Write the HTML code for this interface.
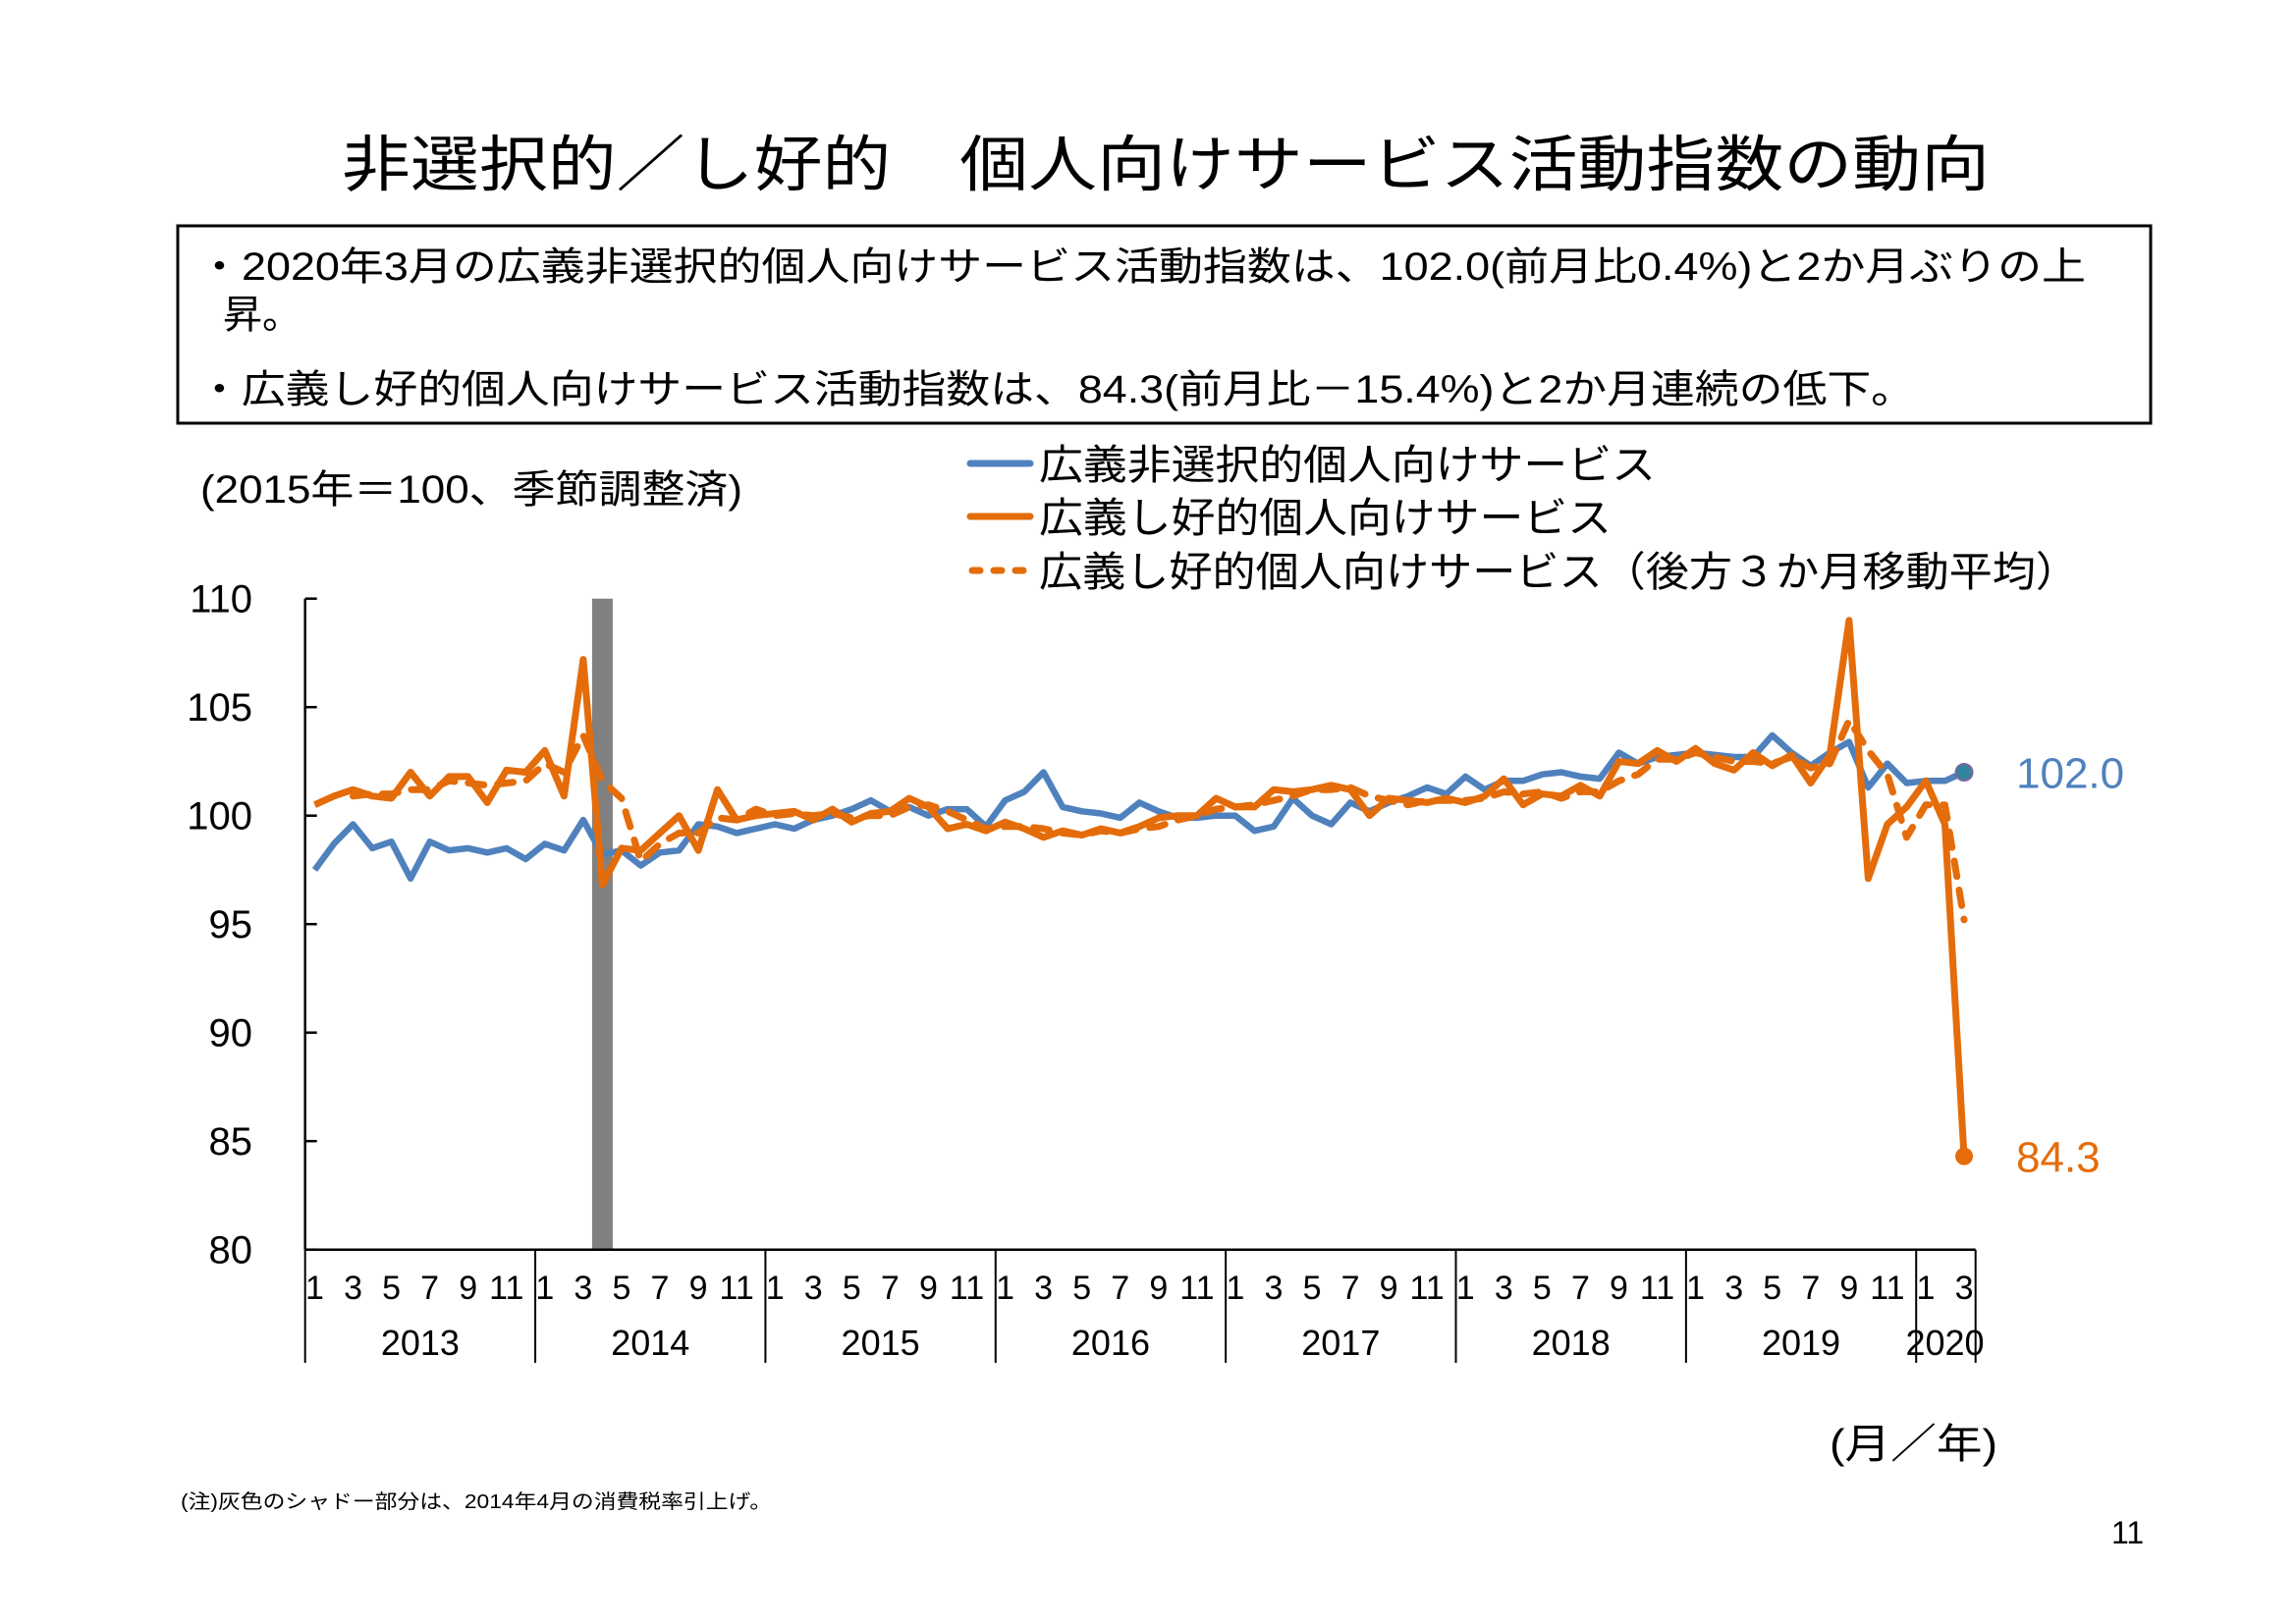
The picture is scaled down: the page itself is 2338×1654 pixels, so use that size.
<!DOCTYPE html>
<html lang="ja"><head><meta charset="utf-8"><title>非選択的／し好的 個人向けサービス活動指数の動向</title>
<style>
html,body{margin:0;padding:0;background:#fff;}
svg{display:block;}
text{font-family:"Liberation Sans","Noto Sans CJK JP",sans-serif;fill:#000;}
</style></head>
<body>
<svg id="chart" width="2338" height="1654" viewBox="0 0 2338 1654" xmlns="http://www.w3.org/2000/svg">
<text x="348" y="189" font-size="62" textLength="1678" lengthAdjust="spacingAndGlyphs">非選択的／し好的　個人向けサービス活動指数の動向</text>
<rect x="181" y="230" width="2009" height="201" fill="none" stroke="#000" stroke-width="3"/>
<text x="201" y="285" font-size="40" textLength="1923" lengthAdjust="spacingAndGlyphs">・2020年3月の広義非選択的個人向けサービス活動指数は、102.0(前月比0.4%)と2か月ぶりの上</text>
<text x="227" y="334" font-size="40">昇。</text>
<text x="201" y="410" font-size="40" textLength="1749" lengthAdjust="spacingAndGlyphs">・広義し好的個人向けサービス活動指数は、84.3(前月比－15.4%)と2か月連続の低下。</text>
<text x="204" y="512" font-size="40" textLength="552" lengthAdjust="spacingAndGlyphs">(2015年＝100、季節調整済)</text>
<g>
<line x1="988" y1="472" x2="1049" y2="472" stroke="#4f81bd" stroke-width="7" stroke-linecap="round"/>
<text x="1058" y="488" font-size="42" textLength="628" lengthAdjust="spacingAndGlyphs">広義非選択的個人向けサービス</text>
<line x1="988" y1="526" x2="1049" y2="526" stroke="#e46c0a" stroke-width="7" stroke-linecap="round"/>
<text x="1058" y="542" font-size="42" textLength="583" lengthAdjust="spacingAndGlyphs">広義し好的個人向けサービス</text>
<line x1="990" y1="581" x2="1049" y2="581" stroke="#e46c0a" stroke-width="7" stroke-linecap="round" stroke-dasharray="8 14"/>
<text x="1058" y="597" font-size="42" textLength="1059" lengthAdjust="spacingAndGlyphs">広義し好的個人向けサービス（後方３か月移動平均）</text>
</g>
<g id="plot"></g>
<text x="1863" y="1485" font-size="42" textLength="171" lengthAdjust="spacingAndGlyphs">(月／年)</text>
<text x="184" y="1536" font-size="20" textLength="602" lengthAdjust="spacingAndGlyphs">(注)灰色のシャドー部分は、2014年4月の消費税率引上げ。</text>
<text x="2150" y="1572" font-size="32">11</text>
</svg>
<script>
const years = ["2013","2014","2015","2016","2017","2018","2019","2020"];
const yTicks = [80,85,90,95,100,105,110];
const monthLabels = ["1","3","5","7","9","11"];
const shadeIndex = 15;
const maStart = 2;
const nonselective = [
97.5,98.7,99.6,98.5,98.8,97.1,98.8,98.4,98.5,98.3,98.5,98.0,
98.7,98.4,99.8,98.2,98.4,97.7,98.3,98.4,99.6,99.5,99.2,99.4,
99.6,99.4,99.8,100.0,100.3,100.7,100.2,100.4,100.0,100.3,100.3,99.5,
100.7,101.1,102.0,100.4,100.2,100.1,99.9,100.6,100.2,99.9,99.9,100.0,
100.0,99.3,99.5,100.8,100.0,99.6,100.6,100.2,100.6,100.9,101.3,101.0,
101.8,101.2,101.6,101.6,101.9,102.0,101.8,101.7,102.9,102.4,102.7,102.8,
102.9,102.8,102.7,102.7,103.7,102.9,102.3,102.9,103.4,101.3,102.4,101.5,
101.6,101.6,102.0];
const discretionary = [
100.5,100.9,101.2,100.9,100.8,102.0,100.9,101.8,101.8,100.6,102.1,102.0,
103.0,100.9,107.2,96.8,98.5,98.4,99.2,100.0,98.4,101.2,99.8,100.0,
100.1,100.2,99.8,100.3,99.7,100.1,100.2,100.8,100.4,99.4,99.6,99.3,
99.7,99.4,99.0,99.3,99.1,99.4,99.2,99.5,99.9,100.0,100.0,100.8,
100.4,100.4,101.2,101.1,101.2,101.4,101.2,100.0,100.8,100.7,100.6,100.8,
100.6,100.9,101.7,100.5,101.0,100.9,101.4,100.9,102.5,102.4,103.0,102.5,
103.1,102.4,102.1,102.9,102.3,102.8,101.5,102.8,109.0,97.1,99.6,100.4,
101.6,99.6,84.3];
const movingAvg = [
100.9,101.0,101.0,101.2,101.2,101.6,101.5,101.4,101.5,101.6,
102.4,102.0,103.7,101.6,100.8,97.9,98.7,99.2,99.2,99.9,99.8,100.3,
100.0,100.1,100.0,100.1,99.9,100.0,100.0,100.4,100.5,100.2,99.8,99.4,
99.5,99.5,99.4,99.2,99.1,99.3,99.2,99.4,99.5,99.8,100.0,100.3,
100.4,100.5,100.7,100.9,101.2,101.2,101.3,100.9,100.7,100.5,100.7,100.7,
100.7,100.8,101.1,101.0,101.1,100.8,101.1,101.1,101.6,101.9,102.6,102.6,
102.9,102.7,102.5,102.5,102.4,102.7,102.2,102.4,104.4,103.0,101.9,99.0,
100.5,100.5,95.2];

const NS = "http://www.w3.org/2000/svg";
const plot = document.getElementById("plot");
const X0 = 310.7, X1 = 2011.7, MW = 19.53;
const Y0 = 1272.7, PPU = 22.1;
const xOf = i => X0 + MW * (i + 0.5);
const yOf = v => Y0 - (v - 80) * PPU;
function mk(tag, attrs){const e=document.createElementNS(NS,tag);for(const k in attrs)e.setAttribute(k,attrs[k]);plot.appendChild(e);return e;}

// shade
const sh = mk("rect",{x:xOf(shadeIndex)-10.5,y:yOf(110),width:21,height:yOf(80)-yOf(110),fill:"#808080"});



// axes
const ya = mk("line",{x1:X0,y1:yOf(110),x2:X0,y2:Y0,stroke:"#000","stroke-width":2.5});


const xa = mk("line",{x1:X0,y1:Y0,x2:X1,y2:Y0,stroke:"#000","stroke-width":2.5});



yTicks.forEach(v=>{
  const t = mk("line",{x1:X0,y1:yOf(v),x2:X0+12,y2:yOf(v),stroke:"#000","stroke-width":2.5});
  
  
  const l = mk("text",{x:257,y:yOf(v)+14,"font-size":40,"text-anchor":"end"});
  l.textContent = v;
  
  
});

// year separators and labels
const nMonths = nonselective.length;
years.forEach((yr,k)=>{
  const start = k*12;
  const len = Math.min(12, nMonths - start);
  const xs = X0 + MW*start, xe = X0 + MW*(start+len);
  const sep = mk("line",{x1:xs,y1:Y0,x2:xs,y2:1388,stroke:"#000","stroke-width":2});
  
  
  const yl = mk("text",{x:(xs+xe)/2,y:1380,"font-size":36,"text-anchor":"middle"});
  yl.textContent = yr;
  
  
  for(let m=0;m<len;m+=2){
    const ml = mk("text",{x:xOf(start+m),y:1323,"font-size":34,"text-anchor":"middle"});
    ml.textContent = monthLabels[m/2];
    
    
  }
});
const endSep = mk("line",{x1:X1,y1:Y0,x2:X1,y2:1388,stroke:"#000","stroke-width":2});



function pathFrom(arr, offset){return arr.map((v,i)=>(i?"L":"M")+xOf(i+offset).toFixed(1)+","+yOf(v).toFixed(1)).join(" ");}

const pb = mk("path",{d:pathFrom(nonselective,0),fill:"none",stroke:"#4f81bd","stroke-width":6.5,"stroke-linejoin":"round"});


const po = mk("path",{d:pathFrom(discretionary,0),fill:"none",stroke:"#e46c0a","stroke-width":7,"stroke-linejoin":"round"});


const pm = mk("path",{d:pathFrom(movingAvg,maStart),fill:"none",stroke:"#e46c0a","stroke-width":7,"stroke-dasharray":"16 14","stroke-linecap":"round","stroke-linejoin":"round"});



const lb = nonselective.length-1, lo = discretionary.length-1;
const cb = mk("circle",{cx:xOf(lb),cy:yOf(nonselective[lb]),r:8.5,fill:"#31859c",stroke:"#8064a2","stroke-width":2});


const co = mk("circle",{cx:xOf(lo),cy:yOf(discretionary[lo]),r:9,fill:"#e46c0a"});


const vb = mk("text",{x:2053,y:yOf(nonselective[lb])+16,"font-size":44,fill:"#4f81bd"});
vb.textContent = nonselective[lb].toFixed(1);


vb.style.fill = "#4f81bd";
const vo = mk("text",{x:2053,y:yOf(discretionary[lo])+16,"font-size":44,fill:"#e46c0a"});
vo.textContent = discretionary[lo].toFixed(1);


vo.style.fill = "#e46c0a";
</script>
</body></html>
